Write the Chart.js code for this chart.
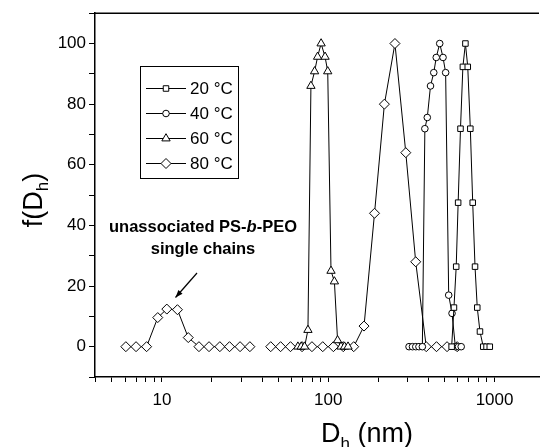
<!DOCTYPE html>
<html lang="en">
<head>
  <meta charset="UTF-8">
  <title>f(Dh) distribution</title>
  <script src="https://cdn.jsdelivr.net/npm/chart.js"></script>
  <style>
    html, body { margin:0; padding:0; background:#fff; }
    #wrap { width:545px; height:447px; position:relative; }
  </style>
</head>
<body>
<div id="wrap"><canvas id="chart" width="545" height="447"></canvas></div>

<script>
  // --- data (Dh in nm, f(Dh)) ---
  const d20 = [552, 570, 588, 604, 624, 645, 668, 690, 715, 739, 763, 787, 817, 855, 895, 936];
  const f20 = [0, 12.9, 26.4, 47.5, 71.9, 92.3, 100, 92.3, 71.9, 47.5, 26.4, 12.9, 5.0, 0, 0, 0];

  const d40 = [306, 321, 336, 351, 368, 381, 394, 412, 431, 446, 468, 490, 508, 530, 555, 581, 607, 630];
  const f40 = [0, 0, 0, 0, 0, 71.9, 75.6, 86.0, 90.4, 95.4, 100, 95.4, 90.4, 17.0, 11.0, 0, 0, 0];

  const d60 = [65.7, 68.8, 72.1, 75.5, 78.7, 82.8, 86.3, 90.6, 95.7, 99.3, 103.9, 108.9, 113.8, 119.4, 125.3, 131.5];
  const f60 = [0, 0, 0, 5.5, 86.0, 90.8, 95.6, 100, 95.6, 90.8, 25.0, 21.5, 2.1, 0, 0, 0];

  const d80 = [6.07, 6.99, 8.09, 9.44, 10.7, 12.4, 14.4, 16.7, 19.2, 22.3, 25.5, 29.5, 33.8, 38.9,
               45.1, 51.7, 59.3, 69.6, 79.8, 92.7, 107.4, 123.1, 142.3, 164.1, 189.8, 217.6, 251.8,
               292.6, 335.6, 388.4, 447.7, 517.9, 596];
  const f80 = [0, 0, 0, 9.6, 12.4, 12.2, 3.0, 0, 0, 0, 0, 0, 0, null,
               0, 0, 0, 0, 0, 0, 0, 0, 0, 6.8, 44.0, 80.0, 100,
               64.0, 28.0, 0, 0, 0, 0];

  const seriesNames = ['20 °C', '40 °C', '60 °C', '80 °C'];
  const xTickVals = [4,5,6,7,8,9,10,20,30,40,50,60,70,80,90,100,200,300,400,500,600,700,800,900,1000];
  const xTickLabels = [10, 100, 1000];
  const yTickLabels = [0, 20, 40, 60, 80, 100];

  const FONT = "'Liberation Sans', Arial, sans-serif";

  function pts(xs, ys){ return xs.map((x,i)=>({x:x, y:ys[i]})); }

  function ds(label, xs, ys, style, r){
    return {
      label, data: pts(xs, ys),
      borderColor:'#000', borderWidth:1,
      pointStyle:style, pointRadius:r, pointHoverRadius:r,
      pointBackgroundColor:'#fff', pointBorderColor:'#000', pointBorderWidth:1,
      showLine:true, spanGaps:false, tension:0
    };
  }

  // marker for the legend box, same shapes as the chart
  function marker(ctx, style, x, y, r){
    ctx.beginPath();
    if (style === 'rect') {
      const s = Math.SQRT1_2*r;
      ctx.rect(x-s, y-s, 2*s, 2*s);
    } else if (style === 'circle') {
      ctx.arc(x, y, r, 0, Math.PI*2);
    } else if (style === 'triangle') {
      ctx.moveTo(x, y - r);
      ctx.lineTo(x + r*Math.sin(2*Math.PI/3), y - r*Math.cos(2*Math.PI/3));
      ctx.lineTo(x - r*Math.sin(2*Math.PI/3), y - r*Math.cos(2*Math.PI/3));
    } else if (style === 'rectRot') {
      ctx.moveTo(x-r, y); ctx.lineTo(x, y-r); ctx.lineTo(x+r, y); ctx.lineTo(x, y+r);
    }
    ctx.closePath();
    ctx.fillStyle = '#fff'; ctx.fill();
    ctx.strokeStyle = '#000'; ctx.lineWidth = 1; ctx.stroke();
  }

  const extras = {
    id:'extras',
    afterDraw(chart){
      const ctx = chart.ctx, a = chart.chartArea;
      ctx.save();
      // top frame line
      ctx.strokeStyle = '#000'; ctx.lineWidth = 1.5;
      ctx.beginPath(); ctx.moveTo(a.left, a.top); ctx.lineTo(a.right, a.top); ctx.stroke();

      // legend
      ctx.lineWidth = 1;
      ctx.strokeRect(140.5, 66.5, 98, 112);
      chart.data.datasets.forEach((d, i) => {
        const y = 88.5 + 25*i;
        ctx.strokeStyle = '#000'; ctx.lineWidth = 1;
        ctx.beginPath(); ctx.moveTo(146, y); ctx.lineTo(186, y); ctx.stroke();
        marker(ctx, d.pointStyle, 166, y, d.pointRadius);
        ctx.fillStyle = '#000';
        ctx.font = '17px ' + FONT;
        ctx.textBaseline = 'middle'; ctx.textAlign = 'left';
        ctx.fillText(seriesNames[i], 190, y + 1);
      });

      // annotation
      ctx.fillStyle = '#000';
      ctx.textBaseline = 'middle'; ctx.textAlign = 'left';
      const p1 = 'unassociated PS-', p2 = 'b', p3 = '-PEO';
      const fs = 16.5;
      ctx.font = 'bold ' + fs + 'px ' + FONT;
      const w1 = ctx.measureText(p1).width, w3 = ctx.measureText(p3).width;
      ctx.font = 'italic bold ' + fs + 'px ' + FONT;
      const w2 = ctx.measureText(p2).width;
      let x0 = 203 - (w1+w2+w3)/2;
      ctx.font = 'bold ' + fs + 'px ' + FONT; ctx.fillText(p1, x0, 227);
      ctx.font = 'italic bold ' + fs + 'px ' + FONT; ctx.fillText(p2, x0 + w1, 227);
      ctx.font = 'bold ' + fs + 'px ' + FONT; ctx.fillText(p3, x0 + w1 + w2, 227);
      ctx.textAlign = 'center';
      ctx.fillText('single chains', 203, 249);

      // arrow
      const ax0 = 197, ay0 = 273, ax1 = 175.5, ay1 = 297.5;
      ctx.lineWidth = 1.2;
      ctx.beginPath(); ctx.moveTo(ax0, ay0); ctx.lineTo(ax1, ay1); ctx.stroke();
      const ang = Math.atan2(ay1-ay0, ax1-ax0);
      ctx.beginPath();
      ctx.moveTo(ax1, ay1);
      ctx.lineTo(ax1 - 8*Math.cos(ang-0.35), ay1 - 8*Math.sin(ang-0.35));
      ctx.lineTo(ax1 - 8*Math.cos(ang+0.35), ay1 - 8*Math.sin(ang+0.35));
      ctx.closePath(); ctx.fill();

      // x title: Dh (nm)
      ctx.textAlign = 'left'; ctx.textBaseline = 'alphabetic';
      ctx.font = '27px ' + FONT;
      const wD = ctx.measureText('D').width, wR = ctx.measureText(' (nm)').width;
      ctx.font = '17px ' + FONT;
      const wh = ctx.measureText('h').width;
      let tx = 367 - (wD + wh + wR)/2;
      ctx.font = '27px ' + FONT; ctx.fillText('D', tx, 442);
      ctx.font = '17px ' + FONT; ctx.fillText('h', tx + wD, 449);
      ctx.font = '27px ' + FONT; ctx.fillText(' (nm)', tx + wD + wh, 442);

      // y title: f(Dh)
      ctx.translate(42, 200);
      ctx.rotate(-Math.PI/2);
      ctx.font = '27px ' + FONT;
      const wf = ctx.measureText('f(D').width, wc = ctx.measureText(')').width;
      ctx.font = '17px ' + FONT;
      const wsub = ctx.measureText('h').width;
      let yx = -(wf + wsub + wc)/2;
      ctx.font = '27px ' + FONT; ctx.fillText('f(D', yx, 0);
      ctx.font = '17px ' + FONT; ctx.fillText('h', yx + wf, 6);
      ctx.font = '27px ' + FONT; ctx.fillText(')', yx + wf + wsub, 0);
      ctx.restore();
    }
  };

  new Chart(document.getElementById('chart'), {
    type:'scatter',
    data:{
      datasets:[
        ds(seriesNames[0], d20, f20, 'rect', 3.9),
        ds(seriesNames[1], d40, f40, 'circle', 3.3),
        ds(seriesNames[2], d60, f60, 'triangle', 4.8),
        ds(seriesNames[3], d80, f80, 'rectRot', 5)
      ]
    },
    options:{
      responsive:false,
      animation:false,
      events:[],
      layout:{ padding:{ left:0, top:12, right:0, bottom:0 } },
      plugins:{ legend:{ display:false }, tooltip:{ enabled:false } },
      scales:{
        x:{
          type:'logarithmic', min:3.96, max:1850,
          afterBuildTicks(scale){ scale.ticks = xTickVals.map(v=>({value:v})); },
          afterFit(scale){ scale.height = 70; },
          border:{ display:true, color:'#000', width:1.5 },
          grid:{ drawOnChartArea:false, drawTicks:true, tickLength:5, color:'#000', tickWidth:1 },
          ticks:{
            autoSkip:false, maxRotation:0, padding:8, color:'#000',
            font:{ family:FONT, size:17 },
            callback:(v)=> xTickLabels.includes(v) ? String(v) : ''
          }
        },
        y:{
          min:-10, max:110,
          afterFit(scale){ scale.width = 95; },
          border:{ display:true, color:'#000', width:1.5 },
          grid:{ drawOnChartArea:false, drawTicks:true, tickLength:6, color:'#000', tickWidth:1 },
          ticks:{
            stepSize:10, autoSkip:false, padding:3, color:'#000',
            font:{ family:FONT, size:17 },
            callback:(v)=> yTickLabels.includes(v) ? String(v) : ''
          }
        }
      }
    },
    plugins:[extras]
  });
</script>
</body>
</html>
